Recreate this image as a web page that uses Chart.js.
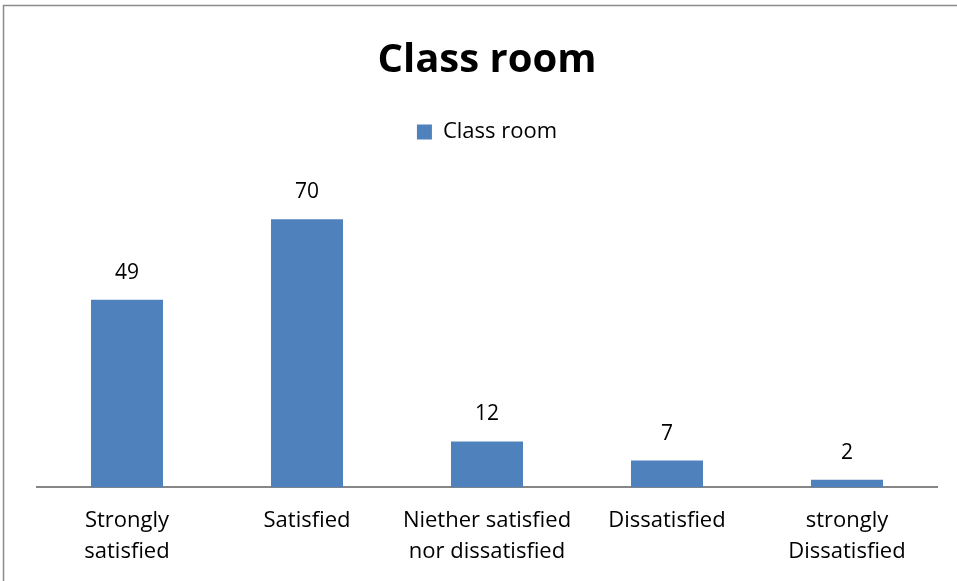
<!DOCTYPE html>
<html>
<head>
<meta charset="utf-8">
<script src="https://cdn.jsdelivr.net/npm/chart.js@4"></script>
<style>
  html, body { margin: 0; padding: 0; background: #fff; }
  #wrap { width: 957px; height: 581px; }
</style>
</head>
<body>
<div id="wrap"><canvas id="barChart"></canvas></div>
<script>
var categories = [['Strongly', 'satisfied'], 'Satisfied', ['Niether satisfied', 'nor dissatisfied'], 'Dissatisfied', ['strongly', 'Dissatisfied']];
var classRoom = [49, 70, 12, 7, 2];
var seriesName = 'Class room';

var fontFamily = '"Open Sans", "Noto Sans", sans-serif';

// outer frame around the whole chart
var framePlugin = {
	id: 'frame',
	beforeDraw: function(chart) {
		var ctx = chart.ctx;
		ctx.save();
		ctx.strokeStyle = '#8c8c8c';
		ctx.lineWidth = 1.5;
		ctx.strokeRect(3.5, 5.5, chart.width + 10, chart.height + 10);
		ctx.restore();
	}
};

// extra room between the legend and the bars
var legendGap = {
	id: 'legendGap',
	beforeInit: function(chart) {
		var origFit = chart.legend.fit;
		chart.legend.fit = function() {
			origFit.bind(chart.legend)();
			this.height += 28;
		};
	}
};

// value labels above each bar
var valueLabels = {
	id: 'valueLabels',
	afterDatasetsDraw: function(chart) {
		var ctx = chart.ctx;
		ctx.save();
		ctx.font = '21px ' + fontFamily;
		ctx.fillStyle = '#000';
		ctx.textAlign = 'center';
		ctx.textBaseline = 'middle';
		chart.getDatasetMeta(0).data.forEach(function(bar, i) {
			ctx.fillText(chart.data.datasets[0].data[i], bar.x, bar.y - 27);
		});
		ctx.restore();
	}
};

var ctx = document.getElementById('barChart');

new Chart(ctx, {
	type: 'bar',
	data: {
		labels: categories,
		datasets: [{
			label: seriesName,
			data: classRoom,
			backgroundColor: '#4f81bd',
			borderWidth: 0,
			categoryPercentage: 1.0,
			barPercentage: 0.4
		}]
	},
	options: {
		responsive: true,
		maintainAspectRatio: false,
		animation: false,
		layout: {
			padding: { left: 37, right: 20, top: 0, bottom: -4 }
		},
		plugins: {
			title: {
				display: true,
				text: 'Class room',
				color: '#000',
				font: { family: fontFamily, size: 40, weight: 'bold' },
				padding: { top: 37, bottom: 26 }
			},
			legend: {
				display: true,
				position: 'top',
				labels: {
					color: '#000',
					boxWidth: 15,
					boxHeight: 15,
					padding: 10,
					font: { family: fontFamily, size: 22 }
				}
			},
			tooltip: { enabled: false }
		},
		scales: {
			x: {
				grid: { display: false, drawTicks: false },
				border: { display: true, color: '#868686', width: 2 },
				ticks: {
					color: '#000',
					padding: 18,
					maxRotation: 0,
					autoSkip: false,
					font: { family: fontFamily, size: 22, lineHeight: 1.4 }
				}
			},
			y: {
				display: false,
				min: 0,
				max: 80
			}
		}
	},
	plugins: [framePlugin, legendGap, valueLabels]
});
</script>
</body>
</html>
